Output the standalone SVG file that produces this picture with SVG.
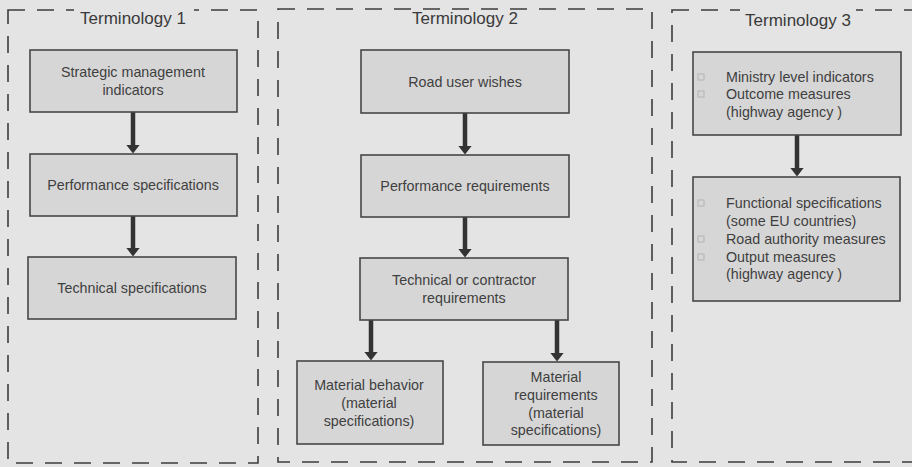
<svg xmlns="http://www.w3.org/2000/svg" width="912" height="467" viewBox="0 0 912 467">
  <defs>
    <style>
      .panel { fill: none; stroke: #3c3c3c; stroke-width: 1.6; stroke-dasharray: 17 12; }
      .box { fill: #d6d6d6; stroke: #474747; stroke-width: 1.6; }
      .title { font-family: "Liberation Sans", Arial, sans-serif; font-size: 17px; fill: #3a3a3a; text-anchor: middle; }
      .lbl { font-family: "Liberation Sans", Arial, sans-serif; font-size: 14.3px; fill: #3f3f3f; text-anchor: middle; }
      .lbl-l { font-family: "Liberation Sans", Arial, sans-serif; font-size: 14.3px; fill: #3f3f3f; }
      .bullet { fill: none; stroke: #b4b4b4; stroke-width: 1; }
      .shaft { stroke: #333333; stroke-width: 4.5; fill: none; }
      .head { fill: #333333; }
    </style>
    <!-- arrowhead points along +x; its base sits on the end of the shaft -->
    <marker id="arrowhead" viewBox="0 0 9 14" refX="0.5" refY="7" markerWidth="9" markerHeight="14" markerUnits="userSpaceOnUse" orient="auto">
      <path class="head" d="M0 0 L9 7 L0 14 Z"/>
    </marker>
  </defs>

  <!-- page background -->
  <rect x="0" y="0" width="912" height="467" fill="#e4e4e4"/>

  <!-- dashed terminology panels -->
  <g id="panels">
    <rect class="panel" x="8" y="10" width="250" height="453"/>
    <rect class="panel" x="278" y="9" width="374" height="453"/>
    <rect class="panel" x="672" y="10" width="260" height="452"/>
  </g>

  <!-- panel titles, drawn over a background patch to break the dashes -->
  <g id="titles">
    <rect x="74" y="2" width="120" height="18" fill="#e4e4e4"/>
    <text class="title" x="133" y="24">Terminology 1</text>
    <text class="title" x="465" y="24">Terminology 2</text>
    <rect x="740" y="3" width="116" height="16" fill="#e4e4e4"/>
    <text class="title" x="798" y="26">Terminology 3</text>
  </g>

  <!-- connectors -->
  <g id="connectors">
    <path class="shaft" d="M133 112 V145" marker-end="url(#arrowhead)"/>
    <path class="shaft" d="M133 216 V248" marker-end="url(#arrowhead)"/>
    <path class="shaft" d="M465 113 V146" marker-end="url(#arrowhead)"/>
    <path class="shaft" d="M465 217 V249" marker-end="url(#arrowhead)"/>
    <path class="shaft" d="M371 320 V352" marker-end="url(#arrowhead)"/>
    <path class="shaft" d="M557 320 V353" marker-end="url(#arrowhead)"/>
    <path class="shaft" d="M797 135 V168" marker-end="url(#arrowhead)"/>
  </g>

  <!-- Terminology 1 -->
  <g id="strategic-indicators">
    <rect class="box" x="30" y="50" width="207" height="62"/>
    <text class="lbl" x="133" y="77">Strategic management</text>
    <text class="lbl" x="133" y="95">indicators</text>
  </g>
  <g id="performance-specifications">
    <rect class="box" x="30" y="154" width="207" height="62"/>
    <text class="lbl" x="133" y="190">Performance specifications</text>
  </g>
  <g id="technical-specifications">
    <rect class="box" x="28" y="257" width="208" height="62"/>
    <text class="lbl" x="132" y="293">Technical specifications</text>
  </g>

  <!-- Terminology 2 -->
  <g id="road-user-wishes">
    <rect class="box" x="361" y="50" width="208" height="63"/>
    <text class="lbl" x="465" y="87">Road user wishes</text>
  </g>
  <g id="performance-requirements">
    <rect class="box" x="361" y="155" width="208" height="62"/>
    <text class="lbl" x="465" y="191">Performance requirements</text>
  </g>
  <g id="technical-contractor-requirements">
    <rect class="box" x="360" y="258" width="208" height="62"/>
    <text class="lbl" x="464" y="285">Technical or contractor</text>
    <text class="lbl" x="464" y="303">requirements</text>
  </g>
  <g id="material-behavior">
    <rect class="box" x="297" y="361" width="146" height="83"/>
    <text class="lbl" x="369" y="390">Material behavior</text>
    <text class="lbl" x="369" y="408">(material</text>
    <text class="lbl" x="369" y="426">specifications)</text>
  </g>
  <g id="material-requirements">
    <rect class="box" x="483" y="362" width="136" height="83"/>
    <text class="lbl" x="556" y="382">Material</text>
    <text class="lbl" x="556" y="400">requirements</text>
    <text class="lbl" x="556" y="418">(material</text>
    <text class="lbl" x="556" y="435">specifications)</text>
  </g>

  <!-- Terminology 3 -->
  <g id="ministry-outcome-measures">
    <rect class="box" x="693" y="52" width="208" height="83"/>
    <rect class="bullet" x="698" y="74" width="6" height="6"/>
    <rect class="bullet" x="698" y="91" width="6" height="6"/>
    <text class="lbl-l" x="726" y="82">Ministry level indicators</text>
    <text class="lbl-l" x="726" y="99">Outcome measures</text>
    <text class="lbl-l" x="726" y="117">(highway agency )</text>
  </g>
  <g id="functional-output-measures">
    <rect class="box" x="693" y="177" width="207" height="124"/>
    <rect class="bullet" x="698" y="200" width="6" height="6"/>
    <rect class="bullet" x="698" y="236" width="6" height="6"/>
    <rect class="bullet" x="698" y="254" width="6" height="6"/>
    <text class="lbl-l" x="726" y="208">Functional specifications</text>
    <text class="lbl-l" x="726" y="226">(some EU countries)</text>
    <text class="lbl-l" x="726" y="244">Road authority measures</text>
    <text class="lbl-l" x="726" y="262">Output measures</text>
    <text class="lbl-l" x="726" y="279">(highway agency )</text>
  </g>
</svg>
